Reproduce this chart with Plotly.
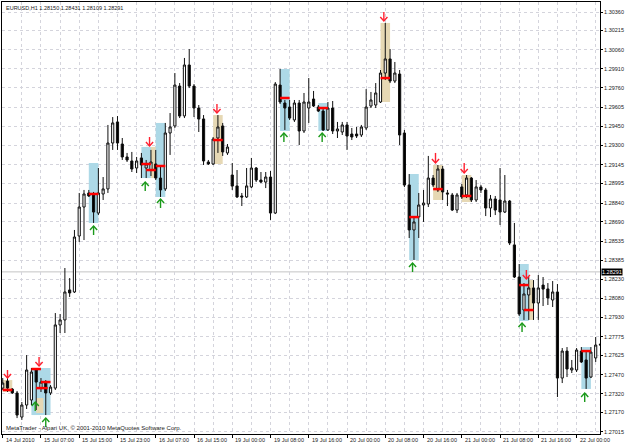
import plotly.graph_objects as go

# ---------------- data ----------------
bars = list(range(126))
open_ = [1.27365,1.27421,1.27357,1.27326,1.27134,1.27230,1.27270,1.27509,1.27365,1.27405,
         1.27326,1.27365,1.27868,1.27908,1.28147,1.28131,1.28577,1.28808,1.28920,1.28904,
         1.28760,1.28912,1.28952,1.29318,1.29486,1.29310,1.29207,1.29175,1.29119,1.29199,
         1.29119,1.29103,1.29151,1.29039,1.28952,1.29398,1.29454,1.29772,1.29534,1.29940,
         1.29772,1.29597,1.29510,1.29167,1.29151,1.29358,1.29454,1.29239,1.29063,1.28976,
         1.28896,1.28888,1.28968,1.29119,1.29023,1.29007,1.29047,1.28760,1.29780,1.29637,
         1.29605,1.29502,1.29637,1.29414,1.29597,1.29669,1.29605,1.29573,1.29422,1.29597,
         1.29414,1.29406,1.29462,1.29390,1.29390,1.29382,1.29438,1.29613,1.29621,1.29645,
         1.29876,1.29988,1.29812,1.29868,1.29398,1.28984,1.28625,1.28729,1.28824,1.28832,
         1.29039,1.28944,1.29111,1.28920,1.28904,1.28784,1.28968,1.28904,1.29039,1.28864,
         1.28968,1.28944,1.28800,1.28872,1.28864,1.28768,1.28856,1.28506,1.28250,1.27987,
         1.28107,1.28163,1.28043,1.28186,1.28155,1.28067,1.28131,1.27445,1.27660,1.27509,
         1.27509,1.27660,1.27589,1.27453,1.27605,1.27716]
high = [1.27445,1.27445,1.27365,1.27342,1.27254,1.27628,1.27525,1.27525,1.27445,1.27429,
        1.27389,1.27963,1.27955,1.28322,1.28242,1.28625,1.28920,1.28944,1.28944,1.28928,
        1.29119,1.29047,1.29462,1.29525,1.29533,1.29358,1.29239,1.29247,1.29207,1.29239,
        1.29183,1.29263,1.29263,1.29127,1.29478,1.29557,1.29876,1.29796,1.29996,1.30067,
        1.29788,1.29621,1.29541,1.29183,1.29366,1.29541,1.29478,1.29310,1.29159,1.29103,
        1.28920,1.29119,1.29199,1.29127,1.29087,1.29087,1.29095,1.29804,1.29908,1.29661,
        1.29661,1.29661,1.29661,1.29717,1.29836,1.29733,1.29621,1.29597,1.29645,1.29653,
        1.29486,1.29486,1.29486,1.29438,1.29446,1.29462,1.29748,1.29725,1.29796,1.29900,
        1.30275,1.30067,1.29964,1.29900,1.29422,1.29071,1.28728,1.28920,1.28944,1.29215,
        1.29063,1.29143,1.29135,1.28944,1.28920,1.28920,1.28991,1.29063,1.29047,1.29023,
        1.28984,1.28960,1.28904,1.28896,1.29119,1.29063,1.28864,1.28681,1.28354,1.28202,
        1.28250,1.28226,1.28266,1.28250,1.28202,1.28218,1.28194,1.27684,1.27692,1.27589,
        1.27684,1.27692,1.27668,1.27692,1.27772,1.27724]
low = [1.27350,1.27334,1.27318,1.27126,1.27111,1.27198,1.27230,1.27190,1.27334,1.27150,
       1.27310,1.27350,1.27804,1.27804,1.28091,1.28123,1.28529,1.28545,1.28888,1.28681,
       1.28744,1.28864,1.28920,1.29263,1.29263,1.29183,1.29167,1.29087,1.29079,1.29039,
       1.29039,1.29055,1.29023,1.28888,1.28936,1.29223,1.29438,1.29517,1.29517,1.29756,
       1.29525,1.29406,1.29143,1.29143,1.29143,1.29239,1.29215,1.29223,1.28944,1.28880,
       1.28816,1.28880,1.28959,1.29007,1.28999,1.28959,1.28705,1.28752,1.29629,1.29422,
       1.29502,1.29486,1.29302,1.29398,1.29478,1.29605,1.29565,1.29414,1.29414,1.29390,
       1.29358,1.29382,1.29263,1.29342,1.29358,1.29366,1.29422,1.29597,1.29597,1.29637,
       1.29820,1.29796,1.29796,1.29302,1.28967,1.28561,1.28386,1.28561,1.28689,1.28808,
       1.28967,1.28928,1.28864,1.28816,1.28776,1.28760,1.28872,1.28880,1.28848,1.28848,
       1.28920,1.28736,1.28728,1.28744,1.28665,1.28760,1.28505,1.28242,1.27939,1.27908,
       1.27908,1.27908,1.27908,1.28019,1.28027,1.28011,1.27294,1.27405,1.27453,1.27485,
       1.27493,1.27565,1.27358,1.27445,1.27573,1.27700]
close = [1.27405,1.27365,1.27326,1.27150,1.27230,1.27509,1.27493,1.27413,1.27413,1.27326,
         1.27373,1.27868,1.27908,1.28131,1.28123,1.28569,1.28808,1.28912,1.28896,1.28768,
         1.28920,1.28952,1.29318,1.29478,1.29318,1.29207,1.29183,1.29111,1.29175,1.29143,
         1.29151,1.29167,1.29039,1.28944,1.29398,1.29446,1.29780,1.29533,1.29940,1.29772,
         1.29597,1.29509,1.29175,1.29151,1.29350,1.29446,1.29247,1.29286,1.28975,1.28888,
         1.28888,1.28976,1.29119,1.29023,1.29007,1.29047,1.28760,1.29788,1.29645,1.29597,
         1.29517,1.29637,1.29414,1.29645,1.29645,1.29613,1.29573,1.29422,1.29597,1.29414,
         1.29430,1.29462,1.29374,1.29366,1.29374,1.29446,1.29605,1.29661,1.29717,1.29876,
         1.29988,1.29812,1.29876,1.29382,1.28983,1.28625,1.28689,1.28824,1.28840,1.29039,
         1.28984,1.29111,1.28928,1.28912,1.28784,1.28904,1.28888,1.29039,1.28864,1.28968,
         1.28944,1.28800,1.28872,1.28784,1.28768,1.28856,1.28521,1.28250,1.27955,1.28115,
         1.28163,1.28043,1.28163,1.28154,1.28083,1.28131,1.27445,1.27660,1.27517,1.27525,
         1.27668,1.27573,1.27445,1.27652,1.27708,1.27708]

# zones (rectangles), drawn in this order
zone_kind = ["tan", "blue", "tan", "blue", "tan", "blue", "blue", "tan", "blue", "blue",
             "tan", "blue", "tan", "tan", "tan", "blue", "blue"]
zone_from = [0, 6, 7, 18, 30, 29, 32, 44, 58, 66, 79, 85, 90, 96, 109, 108, 121]
zone_to   = [2, 10, 8.5, 20, 32, 31, 34, 46, 60, 68, 81, 87, 92, 98, 111, 110, 123]
zone_lo = [1.27334, 1.27150, 1.27166, 1.28681, 1.29039, 1.29039, 1.28888, 1.29151, 1.29414,
           1.29414, 1.29645, 1.28386, 1.28864, 1.28848, 1.27908, 1.27900, 1.27358]
zone_hi = [1.27429, 1.27525, 1.27286, 1.29159, 1.29287, 1.29287, 1.29478, 1.29541, 1.29908,
           1.29637, 1.30275, 1.29071, 1.29143, 1.29063, 1.28226, 1.28354, 1.27692]

# red levels
level_from = [0, 6, 8, 7, 18, 29, 30, 32, 44, 58, 66, 79, 85, 90, 96, 108, 109, 121]
level_to   = [2, 8, 10, 9.4, 20, 31, 32, 34, 46, 60, 68, 81, 87, 92, 98, 110, 111, 123]
level_price = [1.27350, 1.27517, 1.27413, 1.27365, 1.28912, 1.29151, 1.29103, 1.29135,
               1.29342, 1.29677, 1.29597, 1.29836, 1.28728, 1.28951, 1.28896, 1.28186,
               1.27987, 1.27660]

# signal arrows
down_bar  = [1.0, 7.6, 30.7, 44.8, 79.7, 90.5, 96.5, 109.5]
down_tail = [1.27509, 1.27612, 1.29366, 1.29629, 1.30362, 1.29239, 1.29159, 1.28306]
down_tip  = [1.27445, 1.27541, 1.29294, 1.29557, 1.30291, 1.29159, 1.29079, 1.28234]
up_bar  = [6.8, 9.0, 19.0, 29.8, 33.0, 58.8, 66.8, 85.7, 108.6, 121.7]
up_tip  = [1.27254, 1.27126, 1.28657, 1.29007, 1.28872, 1.29398, 1.29398, 1.28362, 1.27884, 1.27326]
up_tail = [1.27182, 1.27055, 1.28585, 1.28936, 1.28800, 1.29326, 1.29326, 1.28290, 1.27812, 1.27254]

current_price = 1.28291
header = "EURUSD,H1 1.28150 1.28431 1.28109 1.28291"
footer = "MetaTrader - Alpari UK, \u00a9 2001-2010 MetaQuotes Software Corp."

price_ticks = ["1.30360", "1.30215", "1.30060", "1.29910", "1.29760", "1.29605", "1.29450",
               "1.29300", "1.29145", "1.28995", "1.28840", "1.28690", "1.28535", "1.28385",
               "1.28230", "1.28080", "1.27930", "1.27775", "1.27625", "1.27470", "1.27320",
               "1.27170", "1.27015"]
time_labels = ["14 Jul 2010", "15 Jul 07:00", "15 Jul 15:00", "15 Jul 23:00", "16 Jul 07:00",
               "16 Jul 15:00", "19 Jul 00:00", "19 Jul 08:00", "19 Jul 16:00", "20 Jul 00:00",
               "20 Jul 08:00", "20 Jul 16:00", "21 Jul 00:00", "21 Jul 08:00", "21 Jul 16:00",
               "22 Jul 00:00"]
time_label_bar = [0, 8, 16, 24, 32, 40, 48, 56, 64, 72, 80, 88, 96, 104, 112, 120]

# ---------------- style ----------------
FONT = "Liberation Sans"
GRID = "#d4d4dc"
BLUE = "#add9e7"
TAN = "#e6d8b4"
HEAD_W = 0.75      # arrow head half width (bars)
HEAD_D = 0.00032   # arrow head depth (price)

fig = go.Figure()

for k, a, b, lo, hi in zip(zone_kind, zone_from, zone_to, zone_lo, zone_hi):
    fig.add_shape(type="rect", xref="x", yref="y", x0=a, x1=b, y0=lo, y1=hi,
                  fillcolor=BLUE if k == "blue" else TAN, line=dict(width=0),
                  layer="between")

fig.add_shape(type="line", xref="paper", yref="y", x0=0, x1=1,
              y0=current_price, y1=current_price, line=dict(color="#c4c4c4", width=1),
              layer="between")

fig.add_trace(go.Candlestick(
    x=bars, open=open_, high=high, low=low, close=close,
    increasing=dict(line=dict(color="#101010", width=1), fillcolor="#ffffff"),
    decreasing=dict(line=dict(color="#101010", width=1), fillcolor="#000000"),
    whiskerwidth=0, showlegend=False, hoverinfo="skip"))

# red levels
lx, ly = [], []
for a, b, p in zip(level_from, level_to, level_price):
    lx += [a, b, None]
    ly += [p, p, None]
fig.add_trace(go.Scatter(x=lx, y=ly, mode="lines", line=dict(color="#ff0000", width=2.5),
                         showlegend=False, hoverinfo="skip"))

# arrows
def arrow_path(xs, tails, tips, down):
    px, py = [], []
    s = 1 if down else -1
    for x, t, p in zip(xs, tails, tips):
        px += [x, x, None, x - HEAD_W, x, x + HEAD_W, None]
        py += [t, p, None, p + s * HEAD_D, p, p + s * HEAD_D, None]
    return px, py

dx, dy = arrow_path(down_bar, down_tail, down_tip, True)
fig.add_trace(go.Scatter(x=dx, y=dy, mode="lines", line=dict(color="#ff2030", width=1.4),
                         showlegend=False, hoverinfo="skip"))
ux, uy = arrow_path(up_bar, up_tail, up_tip, False)
fig.add_trace(go.Scatter(x=ux, y=uy, mode="lines", line=dict(color="#1a9a1a", width=1.4),
                         showlegend=False, hoverinfo="skip"))

annotations = []
for b, t in zip(time_label_bar, time_labels):
    annotations.append(dict(x=b, y=0, xref="x", yref="paper", text=t, showarrow=False,
                            xanchor="left", yanchor="top", xshift=1, yshift=-1,
                            font=dict(family=FONT, size=5.5, color="#222")))
annotations.append(dict(x=0, y=1, xref="paper", yref="paper", text=header, showarrow=False,
                        xanchor="left", yanchor="top", xshift=2, yshift=-1,
                        font=dict(family=FONT, size=5.5, color="#222")))
annotations.append(dict(x=0, y=0, xref="paper", yref="paper", text=footer, showarrow=False,
                        xanchor="left", yanchor="bottom", xshift=2, yshift=1,
                        font=dict(family=FONT, size=6, color="#222")))
annotations.append(dict(x=1, y=current_price, xref="paper", yref="y",
                        text=f"{current_price:.5f}", showarrow=False,
                        xanchor="left", yanchor="middle", xshift=1, bgcolor="#000000",
                        borderpad=0, font=dict(family=FONT, size=5.5, color="#ffffff")))

fig.update_layout(
    width=625, height=445,
    margin=dict(l=1, r=23, t=2, b=11),
    paper_bgcolor="#ffffff", plot_bgcolor="#ffffff",
    boxgap=0.35,
    annotations=annotations,
    xaxis=dict(range=[-0.15, 124.9], tickmode="linear", tick0=0, dtick=8,
               showticklabels=False, ticks="outside", ticklen=3, tickcolor="#000",
               showgrid=True, gridcolor=GRID, griddash="dot", gridwidth=1,
               minor=dict(tickmode="linear", tick0=0, dtick=4, showgrid=True,
                          gridcolor=GRID, griddash="dot", ticklen=0),
               showline=True, linecolor="#000", linewidth=1, mirror=True,
               zeroline=False, rangeslider=dict(visible=False), fixedrange=True),
    yaxis=dict(range=[1.26999, 1.30442], side="right",
               tickmode="array", tickvals=[float(v) for v in price_ticks], ticktext=price_ticks,
               ticks="outside", ticklen=2, tickcolor="#000",
               tickfont=dict(family=FONT, size=5.5, color="#222"),
               showgrid=True, gridcolor=GRID, griddash="dot", gridwidth=1,
               showline=True, linecolor="#000", linewidth=1, mirror=True,
               zeroline=False, fixedrange=True),
)

fig.write_html("out.html")
